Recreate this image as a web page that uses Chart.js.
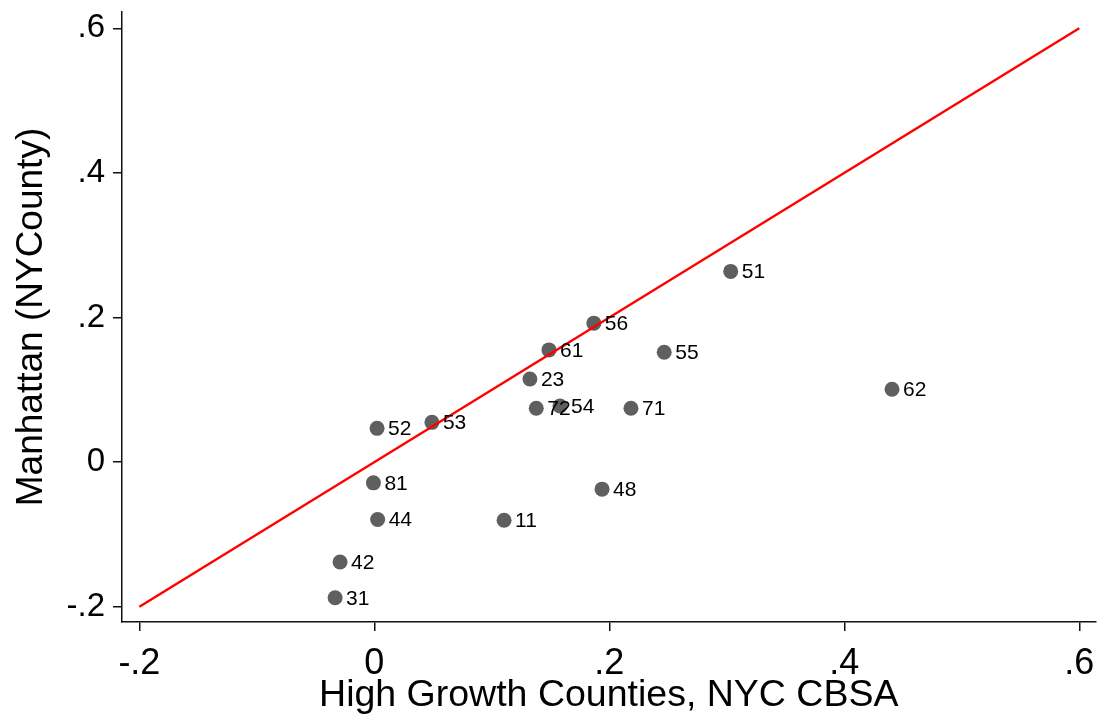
<!DOCTYPE html>
<html lang="en">
<head>
    <meta charset="UTF-8">
    <title>Manhattan vs High Growth Counties</title>
    <script src="https://cdn.jsdelivr.net/npm/chart.js"></script>
    <style>
        html, body { margin: 0; padding: 0; background: #fff; }
        #wrap { width: 1103px; height: 723px; }
    </style>
</head>
<body>
<div id="wrap"><canvas id="scatterChart" width="1103" height="723"></canvas></div>

<script>
    // values
    const xValues = [0.3033, 0.1868, 0.1486, 0.2467, 0.1324, 0.1378, 0.1580, 0.2184, 0.0023, 0.0490,
        -0.0008, 0.1938, 0.0028, 0.1104, 0.4406, -0.0292, -0.0334];
    const yValues = [0.2638, 0.1922, 0.1552, 0.1520, 0.1150, 0.0744, 0.0776, 0.0744, 0.0467, 0.0550,
        -0.0287, -0.0374, -0.0795, -0.0804, 0.1007, -0.1382, -0.1876];
    const pointLabels = ['51', '56', '61', '55', '23', '72', '54', '71', '52', '53',
        '81', '48', '44', '11', '62', '42', '31'];

    // 45 degree line
    const lineX = [-0.2, 0.6];
    const lineY = [-0.2, 0.6];

    const tickValues = [-0.2, 0, 0.2, 0.4, 0.6];
    const tickLabels = ['-.2', '0', '.2', '.4', '.6'];

    const FONT = "'Liberation Sans', Arial, sans-serif";

    function setTicks(scale) {
        scale.ticks = tickValues.map(v => ({value: v}));
    }
    function tickText(value) {
        const i = tickValues.findIndex(v => Math.abs(v - value) < 1e-9);
        return i >= 0 ? tickLabels[i] : '';
    }

    // labels next to the markers
    const markerLabels = {
        id: 'markerLabels',
        afterDatasetsDraw(chart) {
            const meta = chart.getDatasetMeta(1);
            const ctx = chart.ctx;
            ctx.save();
            ctx.font = '21px ' + FONT;
            ctx.fillStyle = '#000';
            ctx.textAlign = 'left';
            ctx.textBaseline = 'middle';
            meta.data.forEach((pt, i) => {
                ctx.fillText(pointLabels[i], pt.x + 11, pt.y + 1);
            });
            ctx.restore();
        }
    };

    const ctx = document.getElementById('scatterChart').getContext('2d');
    const chart = new Chart(ctx, {
        type: 'scatter',
        data: {
            datasets: [{
                type: 'line',
                data: lineX.map((x, i) => ({x: x, y: lineY[i]})),
                borderColor: '#ff0000',
                borderWidth: 2.4,
                pointRadius: 0,
                fill: false,
                order: 0
            }, {
                data: xValues.map((x, i) => ({x: x, y: yValues[i]})),
                backgroundColor: '#5f5f5f',
                borderColor: '#5f5f5f',
                borderWidth: 0,
                pointRadius: 7.5,
                order: 1
            }]
        },
        options: {
            responsive: false,
            animation: false,
            layout: {padding: {top: 12, right: 5, left: 0, bottom: 0}},
            plugins: {legend: {display: false}, tooltip: {enabled: false}},
            scales: {
                x: {
                    type: 'linear',
                    min: -0.2148,
                    max: 0.6138,
                    afterBuildTicks: setTicks,
                    afterFit(scale) {
                        scale.height = 101;
                        scale.paddingLeft = 0;
                        scale.paddingRight = 0;
                    },
                    border: {display: true, color: '#111', width: 1.5},
                    grid: {display: true, drawOnChartArea: false, drawTicks: true, tickLength: 9, color: '#111', lineWidth: 1.5},
                    ticks: {
                        color: '#000', padding: 11, maxRotation: 0, autoSkip: false,
                        font: {size: 36, family: FONT},
                        callback: tickText
                    },
                    title: {
                        display: true,
                        text: 'High Growth Counties, NYC CBSA',
                        color: '#000',
                        font: {size: 37.5, family: FONT},
                        padding: {top: 0, bottom: 5}
                    }
                },
                y: {
                    type: 'linear',
                    min: -0.2212,
                    max: 0.6226,
                    afterBuildTicks: setTicks,
                    afterFit(scale) {
                        scale.width = 122;
                        scale.paddingTop = 0;
                        scale.paddingBottom = 0;
                    },
                    border: {display: true, color: '#111', width: 1.5},
                    grid: {display: true, drawOnChartArea: false, drawTicks: true, tickLength: 9, color: '#111', lineWidth: 1.5},
                    ticks: {
                        color: '#000', padding: 8, autoSkip: false,
                        font: {size: 33, family: FONT},
                        callback: tickText
                    },
                    title: {
                        display: true,
                        text: 'Manhattan (NYCounty)',
                        color: '#000',
                        font: {size: 37, family: FONT},
                        padding: {top: 10, bottom: 0}
                    }
                }
            }
        },
        plugins: [markerLabels]
    });
</script>
</body>
</html>
